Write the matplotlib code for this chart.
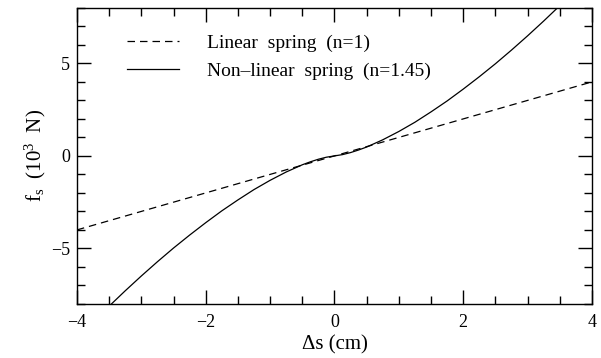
import matplotlib
matplotlib.use("Agg")
import matplotlib.pyplot as plt
from matplotlib.ticker import MultipleLocator

# linear spring (n=1)
ds_lin = [-4.0, 4.0]
fs_lin = [-4.0, 4.0]

# non-linear spring (n=1.45)
ds_nl = [-3.5, -3.25, -3.0, -2.75, -2.5, -2.25, -2.0, -1.75, -1.5, -1.25, -1.0,
         -0.75, -0.5, -0.375, -0.25, -0.125, 0.0, 0.125, 0.25, 0.375, 0.5,
         0.75, 1.0, 1.25, 1.5, 1.75, 2.0, 2.25, 2.5, 2.75, 3.0, 3.25, 3.5]
fs_nl = [-8.12, -7.29, -6.49, -5.72, -4.98, -4.28, -3.61, -2.97, -2.38, -1.82,
         -1.32, -0.87, -0.48, -0.32, -0.18, -0.07, 0.0, 0.07, 0.18, 0.32,
         0.48, 0.87, 1.32, 1.82, 2.38, 2.97, 3.61, 4.28, 4.98, 5.72, 6.49,
         7.29, 8.12]

plt.rcParams['font.family'] = ['Liberation Serif', 'DejaVu Serif']
plt.rcParams['mathtext.fontset'] = 'custom'
plt.rcParams['mathtext.rm'] = 'Liberation Serif'
plt.rcParams['mathtext.it'] = 'Liberation Serif'

fig = plt.figure(figsize=(6.01, 3.58), dpi=100)
ax = fig.add_axes([0.128, 0.151, 0.857, 0.827])

ax.plot(ds_lin, fs_lin, color="black", lw=0.9, dashes=(6, 4),
        label="Linear  spring  (n=1)")
ax.plot(ds_nl, fs_nl, color="black", lw=0.9,
        label="Non\u2013linear  spring  (n=1.45)")

ax.set_xlim(-4, 4)
ax.set_ylim(-8, 8)
ax.xaxis.set_major_locator(MultipleLocator(2))
ax.xaxis.set_minor_locator(MultipleLocator(0.5))
ax.yaxis.set_major_locator(MultipleLocator(5))
ax.yaxis.set_minor_locator(MultipleLocator(1))
ax.tick_params(which="both", direction="in", top=True, right=True,
               width=1.0, labelsize=13)
ax.tick_params(which="major", length=10)
ax.tick_params(which="minor", length=5.5)
ax.tick_params(axis="x", pad=7)
ax.tick_params(axis="y", pad=5)
for sp in ax.spines.values():
    sp.set_linewidth(1.0)

ax.set_xlabel("\u0394s (cm)", fontsize=15, labelpad=3)
ax.set_ylabel("f$_{\\rm s}$  (10$^{3}$  N)", fontsize=15, labelpad=2)

leg = ax.legend(loc="upper left", frameon=False, fontsize=14,
                handlelength=2.7, handletextpad=1.4, borderaxespad=0,
                borderpad=0, labelspacing=0.5,
                bbox_to_anchor=(0.097, 0.91))

fig.savefig("out.png", dpi=100)
